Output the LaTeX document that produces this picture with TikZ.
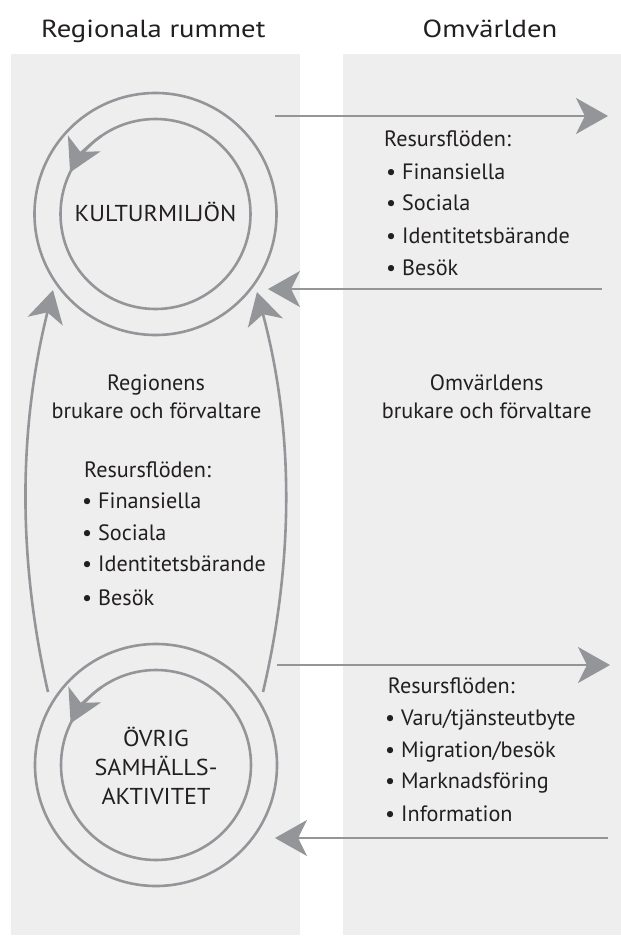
\documentclass[tikz,border=0pt]{standalone}
\usepackage{fontspec}
\setmainfont{PT Sans}
\newfontfamily\ttlfont{PT Sans}[FakeStretch=1.16]
\newfontfamily\capsfont{PT Sans}[FakeStretch=1.05]
\usetikzlibrary{arrows.meta,calc}
\definecolor{panel}{HTML}{EDEEED}
\definecolor{lin}{HTML}{939598}
\definecolor{ink}{HTML}{231F20}
\begin{document}
\begin{tikzpicture}[x=1pt,y=-1pt,
  bigtip/.style={-{Stealth[length=32pt,width=36pt,inset=9pt]}},
  flow/.style={draw=lin, line width=2.6pt, bigtip},
  ring/.style={draw=lin, line width=2.6pt},
  txt/.style={text=ink, font=\fontsize{22.2}{27}\selectfont, inner sep=0pt},
  ttl/.style={text=ink, font=\ttlfont\fontsize{24.7}{30}\selectfont, inner sep=0pt},
  ctxt/.style={text=ink, font=\capsfont\fontsize{23}{28.8}\selectfont, inner sep=0pt, align=center}]
\useasboundingbox (0,0) rectangle (621,937);
\fill[white] (0,0) rectangle (621,937);
\fill[panel] (11,54) rectangle (300,935);
\fill[panel] (343,54) rectangle (621,935);
% titles
\node[ttl, anchor=base] (t1) at (153.3,37.3) {Regionala rummet};
\node[ttl, anchor=base] (t2) at (490,37.3) {Omvärlden};
% circles
\coordinate (kc) at (155.5,214);
\coordinate (oc) at (156,765);
\draw[ring] (kc) circle[radius=121];
\draw[ring] (kc) circle[radius=95];
\draw[ring] (oc) circle[radius=121];
\draw[ring] (oc) circle[radius=95];
\draw[ring, bigtip] ($(kc)+(-125:95)$) arc[start angle=-125, end angle=-154, radius=95];
\draw[ring, bigtip] ($(oc)+(-125:95)$) arc[start angle=-125, end angle=-154, radius=95];
\node[ctxt, anchor=base] (k) at (155.5,221.7) {KULTURMILJÖN};
\node[ctxt] (o) at (156,766) {ÖVRIG\\SAMHÄLLS-\\AKTIVITET};
% vertical curved arrows
\coordinate (lb) at (48,692);
\coordinate (lt) at (53,290);
\coordinate (rb) at (263,692);
\coordinate (rt) at (257,292);
\draw[flow] (lb) .. controls (18,560) and (18,430) .. (lt);
\draw[flow] (rb) .. controls (294,560) and (294,430) .. (rt);
% horizontal arrows
\coordinate (a1s) at (275,116);
\coordinate (a1e) at (608,116);
\coordinate (a2s) at (602,289);
\coordinate (a2e) at (268,289);
\coordinate (a3s) at (277,665);
\coordinate (a3e) at (610,665);
\coordinate (a4s) at (608,838);
\coordinate (a4e) at (275,838);
\draw[flow] (a1s) -- (a1e);
\draw[flow] (a2s) -- (a2e);
\draw[flow] (a3s) -- (a3e);
\draw[flow] (a4s) -- (a4e);
% top right list
\node[txt, anchor=base west] (r1h) at (384,146.7) {Resursflöden:};
\node[txt, anchor=base west] (r1a) at (386,179) {• Finansiella};
\node[txt, anchor=base west] (r1b) at (386,210.7) {• Sociala};
\node[txt, anchor=base west] (r1c) at (386,243.3) {• Identitetsbärande};
\node[txt, anchor=base west] (r1d) at (386,275) {• Besök};
% middle texts
\node[txt, anchor=base] (m1) at (156,390) {Regionens};
\node[txt, anchor=base] (m2) at (156.5,418.3) {brukare och förvaltare};
\node[txt, anchor=base] (n1) at (486.7,390) {Omvärldens};
\node[txt, anchor=base] (n2) at (486.7,418.3) {brukare och förvaltare};
% left list
\node[txt, anchor=base west] (l1h) at (84,477.3) {Resursflöden:};
\node[txt, anchor=base west] (l1a) at (82,508.3) {• Finansiella};
\node[txt, anchor=base west] (l1b) at (82,540) {• Sociala};
\node[txt, anchor=base west] (l1c) at (82,571.7) {• Identitetsbärande};
\node[txt, anchor=base west] (l1d) at (82,605) {• Besök};
% bottom right list
\node[txt, anchor=base west] (r2h) at (387.7,693.3) {Resursflöden:};
\node[txt, anchor=base west] (r2a) at (385,725) {• Varu/tjänsteutbyte};
\node[txt, anchor=base west] (r2b) at (385,757.3) {• Migration/besök};
\node[txt, anchor=base west] (r2c) at (385,788.3) {• Marknadsföring};
\node[txt, anchor=base west] (r2d) at (385,821.7) {• Information};
\end{tikzpicture}
\end{document}
